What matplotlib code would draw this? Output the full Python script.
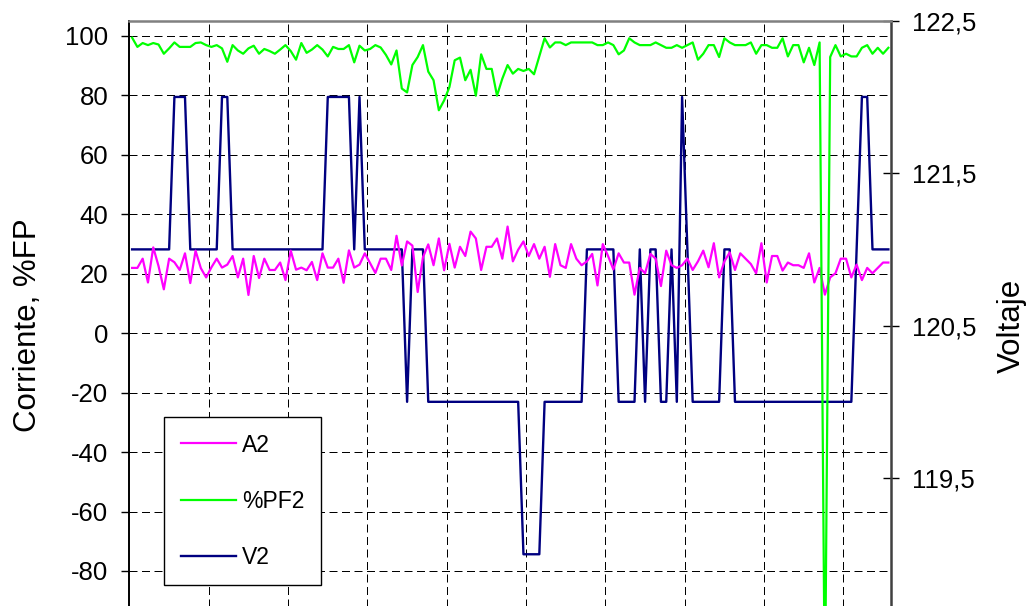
import numpy as np
import matplotlib.pyplot as plt
from matplotlib import transforms

plt.rcParams['font.family'] = ['Liberation Sans', 'DejaVu Sans']
plt.rcParams['axes.unicode_minus'] = False

# A2 (corriente), left axis
a2 = [21.9, 21.9, 25.0, 17.0, 28.8, 22.5, 14.7, 25.0, 23.8, 21.2,
      26.8, 16.8, 27.7, 21.8, 18.7, 22.1, 25.0, 22.0, 23.0, 25.9,
      18.7, 25.0, 12.8, 25.9, 18.5, 25.0, 21.2, 21.2, 23.7, 17.8,
      27.7, 21.3, 22.0, 21.1, 23.9, 17.8, 26.8, 22.0, 22.0, 25.0,
      16.9, 27.8, 22.0, 23.0, 26.8, 23.5, 20.2, 25.0, 25.0, 21.2,
      32.7, 22.7, 30.8, 29.4, 13.8, 25.5, 29.8, 22.8, 31.8, 21.1,
      30.0, 22.0, 29.0, 25.9, 34.1, 31.8, 21.2, 29.0, 29.0, 31.8,
      25.0, 35.8, 24.1, 28.0, 30.8, 25.9, 29.9, 25.0, 29.0, 18.9,
      29.9, 22.8, 21.9, 29.9, 25.0, 22.8, 24.1, 26.6, 16.0, 29.9,
      25.9, 21.4, 26.8, 23.7, 23.7, 12.9, 21.9, 20.1, 26.6, 25.0,
      15.8, 27.7, 22.8, 21.9, 22.8, 25.0, 21.2, 24.1, 27.7, 22.1,
      30.2, 18.7, 24.1, 27.1, 21.2, 26.8, 25.0, 23.2, 20.1, 30.2,
      17.0, 25.9, 25.9, 21.0, 23.7, 22.8, 22.8, 21.9, 26.8, 17.0,
      21.9, 12.9, 18.7, 20.1, 25.0, 25.0, 18.7, 23.0, 17.8, 21.9,
      20.1, 21.9, 23.7, 23.7]

# %PF2 (factor de potencia), left axis
pf2 = [99.3, 96.2, 97.5, 96.8, 97.5, 97.0, 93.9, 95.7, 97.7, 96.2,
       96.2, 96.2, 97.5, 97.7, 96.8, 96.2, 96.8, 95.7, 91.2, 96.8,
       95.0, 93.9, 95.7, 96.6, 93.9, 95.5, 94.8, 93.9, 95.3, 96.8,
       94.8, 91.9, 97.5, 94.2, 95.3, 96.8, 95.3, 93.0, 96.2, 95.5,
       95.5, 96.8, 91.0, 96.6, 95.0, 95.5, 96.8, 96.0, 93.5, 90.3,
       95.0, 82.2, 80.9, 90.1, 92.8, 96.8, 87.9, 85.0, 74.9, 78.2,
       82.7, 91.7, 92.6, 85.0, 88.5, 79.8, 93.7, 88.8, 88.8, 79.8,
       85.5, 90.1, 87.2, 88.8, 88.1, 88.8, 87.0, 93.0, 99.1, 96.0,
       97.7, 97.7, 96.8, 97.7, 97.7, 97.7, 97.7, 97.7, 96.8, 96.8,
       97.7, 96.8, 93.7, 95.0, 99.1, 97.7, 96.8, 96.8, 96.8, 97.7,
       96.8, 95.9, 95.9, 96.8, 95.9, 96.8, 97.7, 91.9, 93.9, 96.8,
       96.8, 92.8, 99.1, 97.7, 96.8, 96.8, 96.8, 97.7, 93.9, 96.8,
       96.8, 95.9, 95.9, 99.1, 93.0, 96.8, 96.8, 91.0, 95.9, 90.1,
       97.7, -125.0, 92.8, 96.8, 93.0, 93.9, 93.0, 93.0, 95.9, 96.8,
       93.9, 95.9, 93.9, 95.9]

# V2 (voltaje), right axis
v2 = [121, 121, 121, 121, 121, 121, 121, 121, 122, 122,
      122, 121, 121, 121, 121, 121, 121, 122, 122, 121,
      121, 121, 121, 121, 121, 121, 121, 121, 121, 121,
      121, 121, 121, 121, 121, 121, 121, 122, 122, 122,
      122, 122, 121, 122, 121, 121, 121, 121, 121, 121,
      121, 121, 120, 121, 121, 121, 120, 120, 120, 120,
      120, 120, 120, 120, 120, 120, 120, 120, 120, 120,
      120, 120, 120, 120, 119, 119, 119, 119, 120, 120,
      120, 120, 120, 120, 120, 120, 121, 121, 121, 121,
      121, 121, 120, 120, 120, 120, 121, 120, 121, 121,
      120, 120, 121, 120, 122, 121, 120, 120, 120, 120,
      120, 120, 121, 121, 120, 120, 120, 120, 120, 120,
      120, 120, 120, 120, 120, 120, 120, 120, 120, 120,
      120, 120, 120, 120, 120, 120, 120, 121, 122, 122,
      121, 121, 121, 121]

series_names = ['A2', '%PF2', 'V2']
left_ticks = list(range(-80, 101, 20))
right_ticks = [119.5, 120.5, 121.5, 122.5]
right_labels = ['119,5', '120,5', '121,5', '122,5']
grid_every = 15

n = len(a2)
x = np.arange(n)

fig = plt.figure(figsize=(10.34, 6.06), dpi=100)
# plot area runs below the bottom of the picture (the original is cropped)
ax1 = fig.add_axes([0.1252, -0.0404, 0.7365, 1.0062])
ax2 = ax1.twinx()
ax1.set_zorder(2)
ax2.set_zorder(1)
ax1.patch.set_visible(False)
ax2.patch.set_facecolor('white')

ax1.set_xlim(-0.5, n - 0.5)
ax1.set_ylim(-100, 105)
ax2.set_ylim(118.5, 122.5)

# dashed grid, drawn on the back axes so the voltage line sits over it
dash = (0, (8, 4.5))
for xv in np.arange(-0.5 + grid_every, n - 0.5, grid_every):
    ax2.axvline(xv, color='black', lw=0.72, ls=dash, zorder=0)
blend = transforms.blended_transform_factory(ax2.transAxes, ax1.transData)
for yv in left_ticks:
    ax2.plot([0, 1], [yv, yv], transform=blend, color='black', lw=0.72,
             ls=dash, zorder=0, clip_on=True)

lv, = ax2.plot(x, v2, color='#000080', lw=1.7, zorder=2)
la, = ax1.plot(x, a2, color='#ff00ff', lw=1.6, zorder=3)
lp, = ax1.plot(x, pf2, color='#00ff00', lw=1.6, zorder=3)

ax1.set_xticks(np.arange(-0.5 + grid_every, n - 0.5, grid_every))
ax1.tick_params(axis='x', length=0, labelbottom=False)
ax2.tick_params(axis='x', length=0, labelbottom=False)

ax1.set_yticks(left_ticks)
ax1.tick_params(axis='y', direction='out', length=5.8, width=1,
                labelsize=18.5, pad=9.5, colors='black')
ax2.set_yticks(right_ticks)
ax2.set_yticklabels(right_labels)
ax2.tick_params(axis='y', direction='inout', length=11.5, width=1,
                labelsize=18.5, pad=9.5, colors='black')

ax1.spines['right'].set_visible(False)
ax1.spines['top'].set_color('#808080')
ax1.spines['top'].set_linewidth(1.8)
ax1.spines['left'].set_color('black')
ax1.spines['left'].set_linewidth(1.4)
ax1.spines['bottom'].set_color('black')
for s in ['left', 'top', 'bottom']:
    ax2.spines[s].set_visible(False)
ax2.spines['right'].set_color('#404040')
ax2.spines['right'].set_linewidth(1.8)

fig.text(0.027, 0.4627, 'Corriente, %FP', rotation=90, ha='center',
         va='center', fontsize=22.5)
fig.text(0.979, 0.4627, 'Voltaje', rotation=90, ha='center',
         va='center', fontsize=22.5)

leg = ax1.legend([la, lp, lv], series_names, loc='upper left',
                 bbox_to_anchor=(164 / 1034, 1 - 417 / 606),
                 bbox_transform=fig.transFigure, fontsize=16.5,
                 fancybox=False, edgecolor='black', framealpha=1,
                 handlelength=2.4, handletextpad=0.3, labelspacing=1.45,
                 borderpad=0.72, borderaxespad=0)
leg.get_frame().set_linewidth(1.0)

fig.savefig('out.png', dpi=100)
